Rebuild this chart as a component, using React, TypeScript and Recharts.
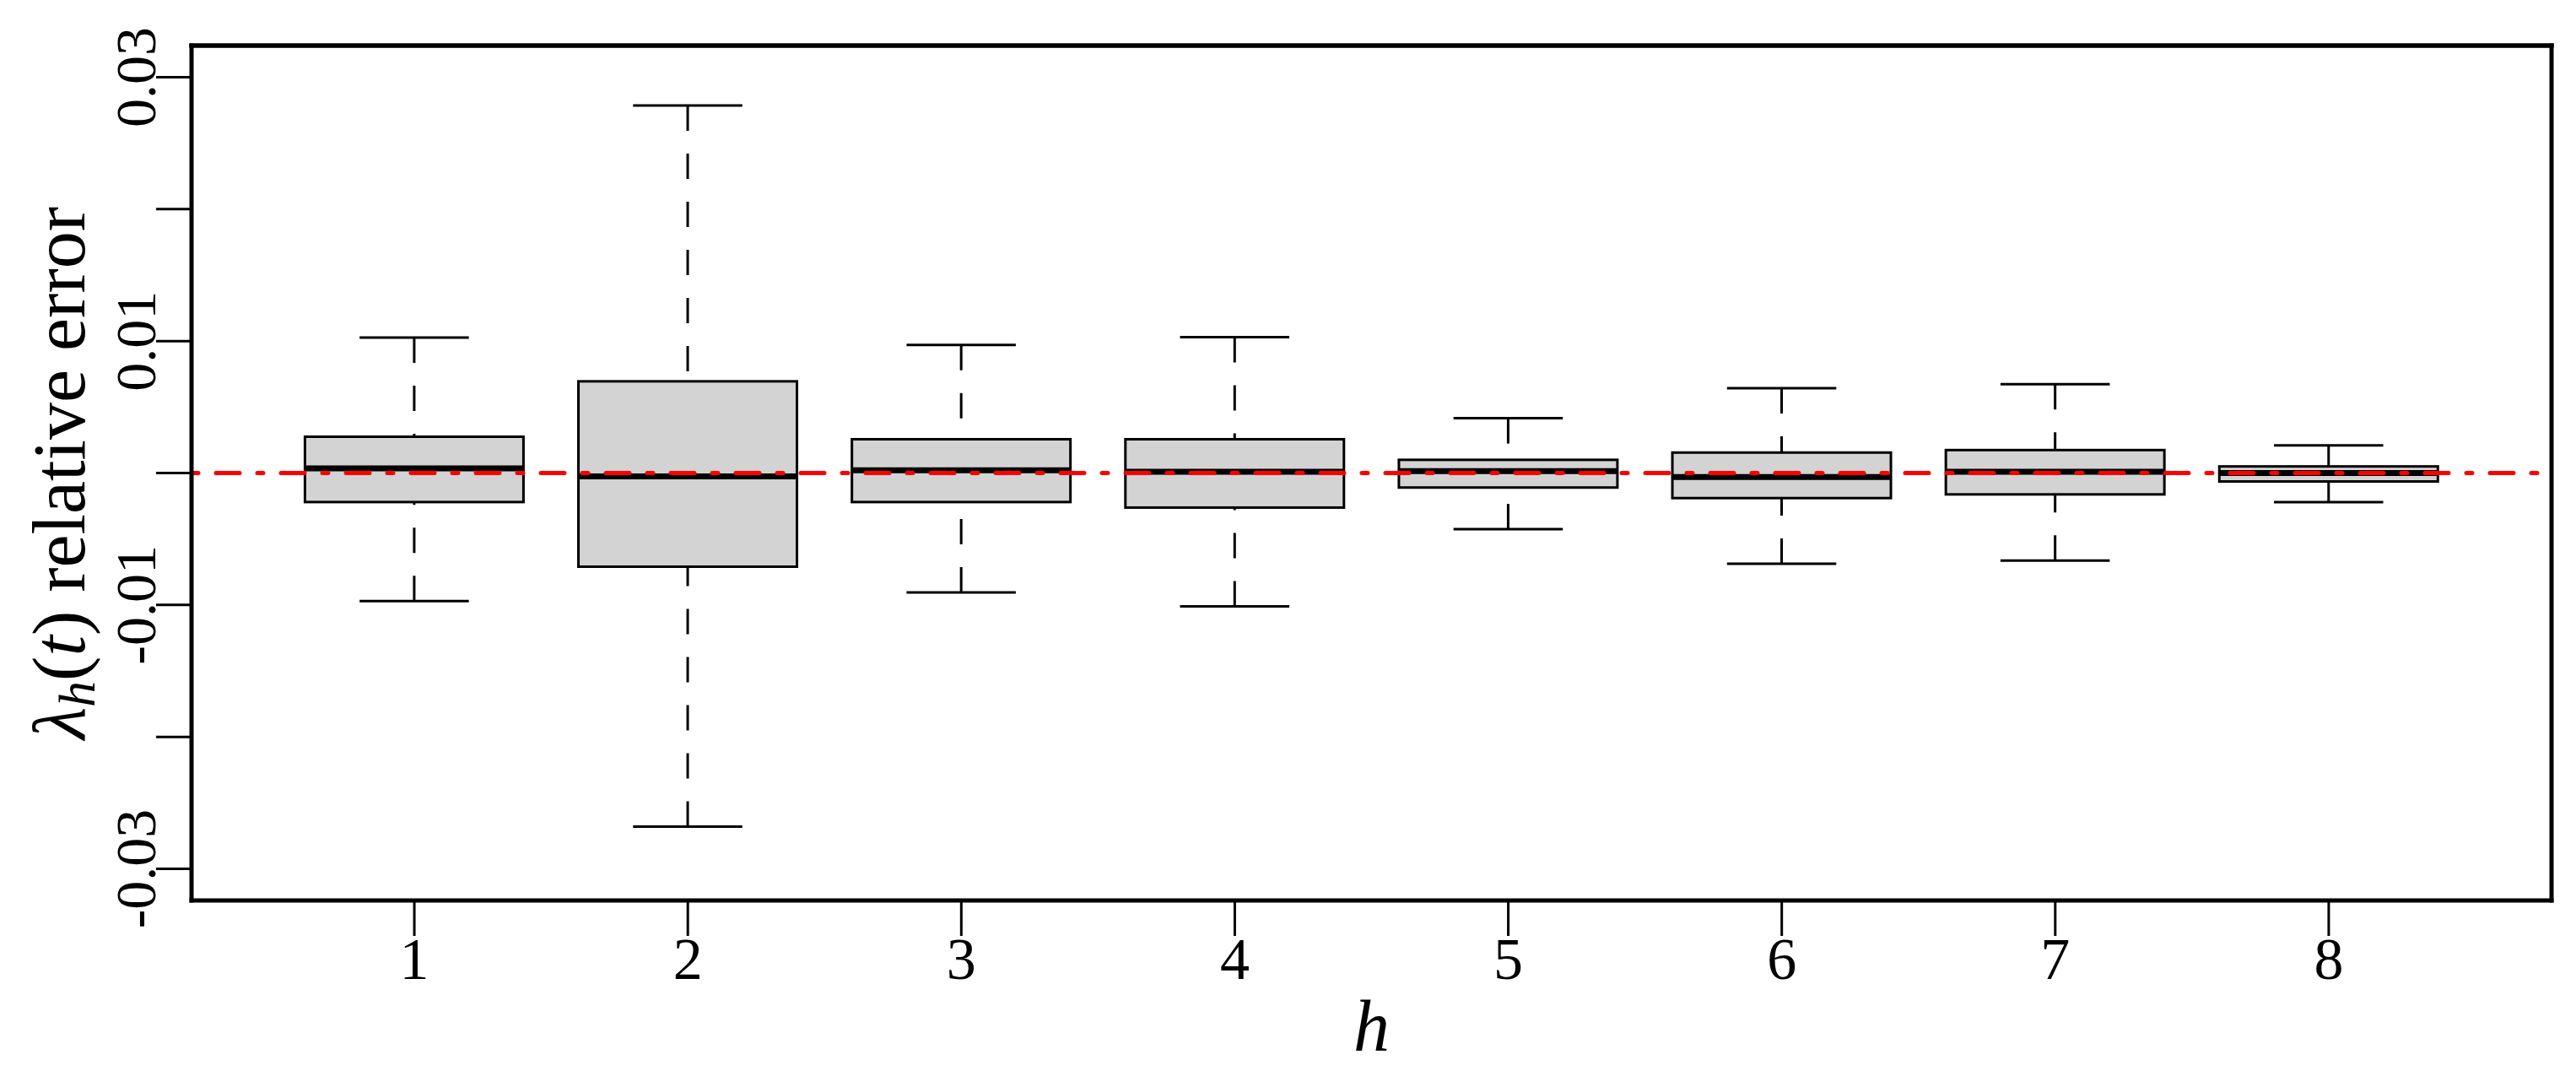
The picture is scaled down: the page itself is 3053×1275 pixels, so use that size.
import { ComposedChart, Bar, XAxis, YAxis, ReferenceLine } from "recharts";

// forecast horizon h
const horizons = ["1", "2", "3", "4", "5", "6", "7", "8"];

// box statistics per horizon
const whiskerLow = [-0.0097, -0.0268, -0.00905, -0.0101, -0.00426, -0.00688, -0.00663, -0.0022];
const quartile1 = [-0.0022, -0.0071, -0.0022, -0.00262, -0.0011, -0.0019, -0.00162, -0.00064];
const medians = [0.00035, -0.00026, 0.0002, 0.0001, 0.00015, -0.0003, 0.0001, 0.0];
const quartile3 = [0.00275, 0.00695, 0.00256, 0.00256, 0.001, 0.00155, 0.00174, 0.0005];
const whiskerHigh = [0.01026, 0.02786, 0.0097, 0.0103, 0.00415, 0.00643, 0.00673, 0.0021];

const yTicks = [-0.03, -0.02, -0.01, 0, 0.01, 0.02, 0.03];
const yDomain: [number, number] = [-0.0324, 0.0324];

const data = horizons.map((h, i) => ({
  h,
  lo: whiskerLow[i],
  q1: quartile1[i],
  med: medians[i],
  q3: quartile3[i],
  hi: whiskerHigh[i],
}));

const FONT = '"Liberation Serif", "DejaVu Serif", serif';
const AXIS_LINE = { stroke: "#000", strokeWidth: 5, strokeLinecap: "square" as const };
const TICK_LINE = { stroke: "#000", strokeWidth: 3 };

// whole box drawn from the [lo, hi] bar the library places
function BoxShape(props: any) {
  const { x, y, width, height, payload } = props;
  const top = Math.min(y, y + height);
  const bottom = Math.max(y, y + height);
  const { lo, q1, med, q3, hi } = payload;
  const py = (v: number) => top + ((hi - v) / (hi - lo)) * (bottom - top);
  const cx = x + width / 2;
  const cap = width / 4;
  return (
    <g>
      <line x1={cx} x2={cx} y1={py(hi)} y2={py(q3)} stroke="#000" strokeWidth={3} strokeDasharray="30 27" />
      <line x1={cx} x2={cx} y1={py(lo)} y2={py(q1)} stroke="#000" strokeWidth={3} strokeDasharray="30 27" />
      <line x1={cx - cap} x2={cx + cap} y1={py(hi)} y2={py(hi)} stroke="#000" strokeWidth={3} />
      <line x1={cx - cap} x2={cx + cap} y1={py(lo)} y2={py(lo)} stroke="#000" strokeWidth={3} />
      <rect x={x} y={py(q3)} width={width} height={py(q1) - py(q3)} fill="#d3d3d3" stroke="#000" strokeWidth={3} />
      <line x1={x} x2={x + width} y1={py(med)} y2={py(med)} stroke="#000" strokeWidth={7} />
    </g>
  );
}

function XTick({ x, y, payload }: any) {
  return (
    <text x={x} y={y + 51} textAnchor="middle" fontFamily={FONT} fontSize={70} fill="#000">
      {payload.value}
    </text>
  );
}

function YTick({ x, y, payload }: any) {
  const k = Math.round(payload.value * 100);
  if (k % 2 === 0) return <g />;
  const tx = x - 1;
  return (
    <text
      x={tx}
      y={y}
      transform={`rotate(-90 ${tx} ${y})`}
      textAnchor="middle"
      fontFamily={FONT}
      fontSize={68}
      fill="#000"
    >
      {payload.value.toFixed(2)}
    </text>
  );
}

function YTitle(props: any) {
  const vb = props.viewBox;
  const tx = vb.x + 92;
  const ty = vb.y + vb.height / 2;
  return (
    <text
      x={tx}
      y={ty}
      transform={`rotate(-90 ${tx} ${ty})`}
      textAnchor="middle"
      fontFamily={FONT}
      fontSize={88}
      fill="#000"
    >
      <tspan fontStyle="italic">λ</tspan>
      <tspan fontStyle="italic" fontSize={62} dy={12}>h</tspan>
      <tspan dy={-12}>(</tspan>
      <tspan fontStyle="italic">t</tspan>
      <tspan>) relative error</tspan>
    </text>
  );
}

function XTitle(props: any) {
  const vb = props.viewBox;
  return (
    <text
      x={vb.x + vb.width / 2}
      y={vb.y + 178}
      textAnchor="middle"
      fontFamily={FONT}
      fontStyle="italic"
      fontSize={86}
      fill="#000"
    >
      h
    </text>
  );
}

export default function App() {
  return (
    <div style={{ width: 3045, height: 1267, background: "#fff" }}>
      <ComposedChart
        width={3045}
        height={1267}
        data={data}
        margin={{ top: 45, right: 28, bottom: 0, left: 0 }}
        barCategoryGap="10%"
      >
        <XAxis
          dataKey="h"
          height={208}
          padding={{ left: 102, right: 102 }}
          interval={0}
          tickSize={42}
          tickMargin={0}
          tick={<XTick />}
          axisLine={AXIS_LINE}
          tickLine={TICK_LINE}
          label={(p: any) => <XTitle {...p} />}
        />
        <XAxis
          xAxisId="top"
          orientation="top"
          dataKey="h"
          height={1}
          padding={{ left: 102, right: 102 }}
          tick={false}
          tickLine={false}
          axisLine={AXIS_LINE}
        />
        <YAxis
          type="number"
          width={219}
          domain={yDomain}
          ticks={yTicks}
          interval={0}
          allowDataOverflow
          tickSize={42}
          tickMargin={0}
          tick={<YTick />}
          axisLine={AXIS_LINE}
          tickLine={TICK_LINE}
          label={(p: any) => <YTitle {...p} />}
        />
        <YAxis
          yAxisId="right"
          orientation="right"
          type="number"
          width={1}
          domain={yDomain}
          allowDataOverflow
          tick={false}
          tickLine={false}
          axisLine={AXIS_LINE}
        />
        <Bar
          dataKey={(d: any) => [d.lo, d.hi]}
          shape={BoxShape}
          isAnimationActive={false}
        />
        <ReferenceLine
          y={0}
          stroke="#ff0000"
          strokeWidth={5}
          strokeDasharray="28 21 7 21"
          strokeDashoffset={48}
          strokeLinecap="round"
        />
        <ReferenceLine y={yDomain[1]} stroke="#000" strokeWidth={5} strokeLinecap="square" />
      </ComposedChart>
    </div>
  );
}
